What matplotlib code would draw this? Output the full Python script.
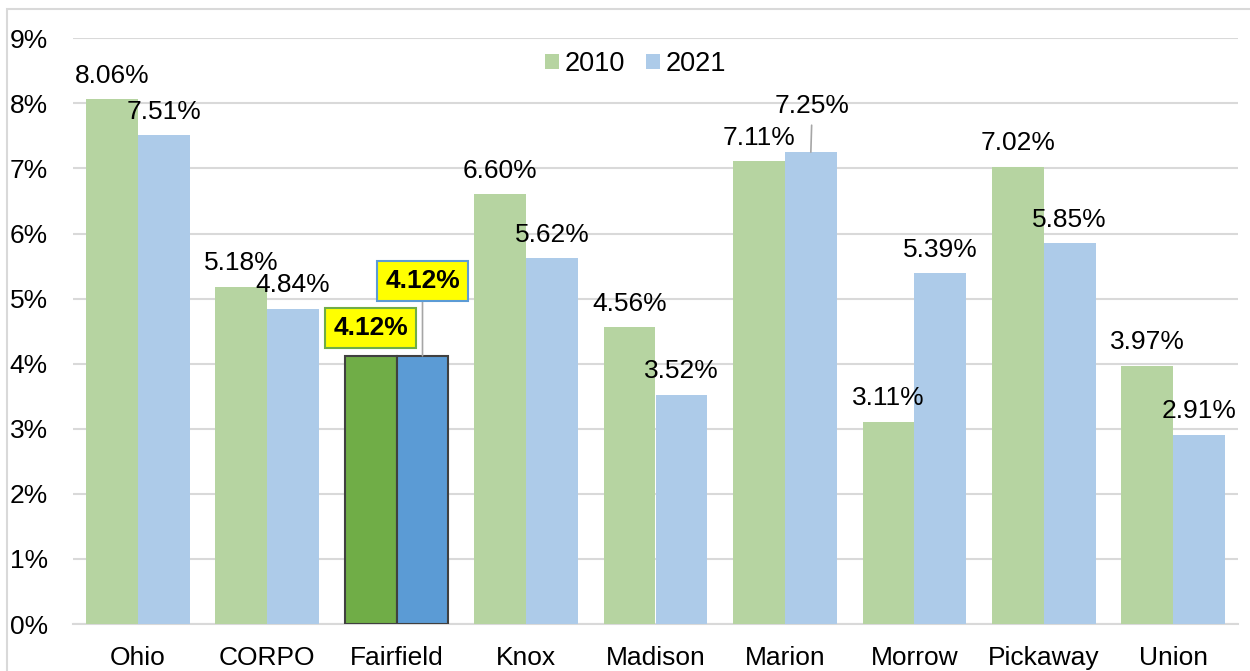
import matplotlib
matplotlib.use('Agg')
from matplotlib import pyplot as plt
from matplotlib.patches import Rectangle
import numpy as np

counties = ['Ohio', 'CORPO', 'Fairfield', 'Knox', 'Madison', 'Marion',
            'Morrow', 'Pickaway', 'Union']
rate_2010 = [8.06, 5.18, 4.12, 6.60, 4.56, 7.11, 3.11, 7.02, 3.97]
rate_2021 = [7.51, 4.84, 4.12, 5.62, 3.52, 7.25, 5.39, 5.85, 2.91]
yticks = list(range(0, 10))

plt.rcParams['font.family'] = ['Liberation Sans', 'DejaVu Sans']

light_green = '#b6d4a1'
light_blue = '#adcbe9'
dark_green = '#70ad47'
dark_blue = '#5b9bd5'
hi = counties.index('Fairfield')

fig = plt.figure(figsize=(12.5, 6.71), dpi=100)
ax = fig.add_axes([0.0584, 0.070, 0.932, 0.873])

x = np.arange(len(counties))
w = 0.4
c10 = [dark_green if i == hi else light_green for i in x]
c21 = [dark_blue if i == hi else light_blue for i in x]
e = ['#404040' if i == hi else 'none' for i in x]
b1 = ax.bar(x - w / 2, rate_2010, w, color=c10, edgecolor=e, linewidth=1.5,
            label='2010', zorder=3)
b2 = ax.bar(x + w / 2, rate_2021, w, color=c21, edgecolor=e, linewidth=1.5,
            label='2021', zorder=3)

# data labels
for i in x:
    for xs, v, col in [(i - w / 2, rate_2010[i], dark_green),
                       (i + w / 2, rate_2021[i], dark_blue)]:
        txt = '%.2f%%' % v
        if i == hi:
            off = 20 if col == dark_green else 54
            ax.annotate(txt, (xs, v), xytext=(0, off), textcoords='offset points',
                        ha='center', va='center', fontsize=19, fontweight='bold',
                        bbox=dict(boxstyle='square,pad=0.3', fc='#ffff00',
                                  ec=col, lw=1.5),
                        arrowprops=dict(arrowstyle='-', color='#a6a6a6', lw=1.2,
                                        shrinkA=0, shrinkB=0) if col == dark_blue else None,
                        zorder=5)
        elif counties[i] == 'Marion' and col == dark_blue:
            ax.annotate(txt, (xs, v), xytext=(1, 28), textcoords='offset points',
                        ha='center', va='baseline', fontsize=19,
                        arrowprops=dict(arrowstyle='-', color='#a6a6a6', lw=1.2,
                                        shrinkA=3, shrinkB=0), zorder=5)
        else:
            ax.annotate(txt, (xs, v), xytext=(0, 12), textcoords='offset points',
                        ha='center', va='baseline', fontsize=19, zorder=5)

ax.set_ylim(0, 9)
ax.set_xlim(-0.5, len(counties) - 0.5)
ax.set_yticks(yticks)
ax.set_yticklabels(['%d%%' % t for t in yticks])
ax.set_xticks(x)
ax.set_xticklabels(counties)
ax.tick_params(axis='y', length=0, labelsize=19, pad=18)
ax.tick_params(axis='x', length=0, labelsize=19, pad=16)
ax.yaxis.grid(True, color='#d9d9d9', lw=1.5, zorder=0)
for s in ['left', 'right', 'top']:
    ax.spines[s].set_visible(False)
ax.spines['bottom'].set_color('#d9d9d9')
ax.spines['bottom'].set_linewidth(1.5)

leg = ax.legend(loc='upper center', bbox_to_anchor=(0.483, 1.02), ncol=2,
                frameon=False, fontsize=19.5, handlelength=0.5, handleheight=0.5,
                handletextpad=0.2, columnspacing=0.8)
for h in leg.legend_handles:
    h.set_edgecolor('none')
leg.legend_handles[0].set_facecolor(light_green)
leg.legend_handles[1].set_facecolor(light_blue)

# chart border
fig.patches.append(Rectangle((7 / 1250, -0.1), 1.2, 1 - 9 / 671 + 0.1,
                             transform=fig.transFigure, fill=False,
                             ec='#d9d9d9', lw=1.5))

fig.savefig('out.png', dpi=100)
